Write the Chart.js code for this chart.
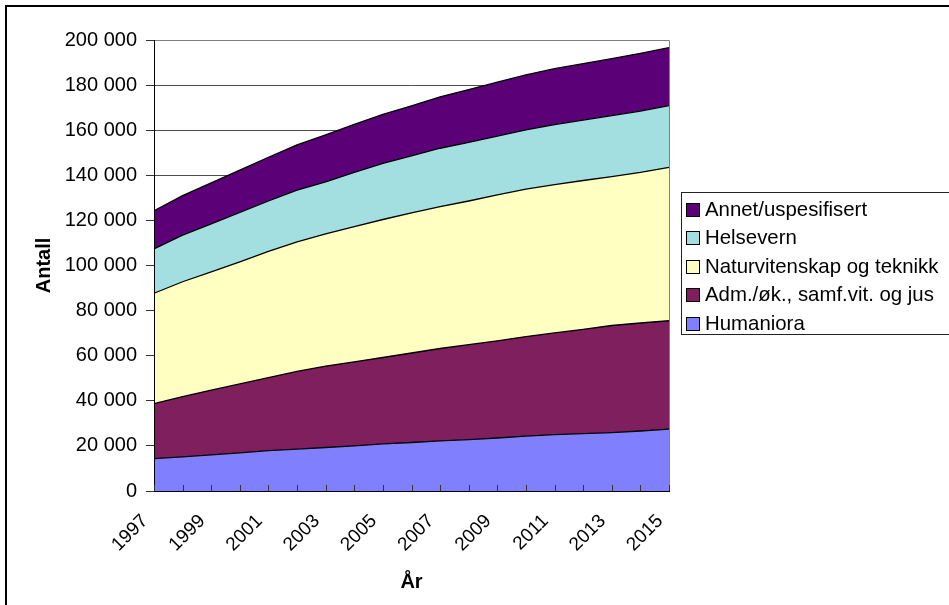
<!DOCTYPE html>
<html>
<head>
<meta charset="utf-8">
<script src="https://cdn.jsdelivr.net/npm/chart.js@4.4.1/dist/chart.umd.min.js"></script>
<style>
  html, body { margin: 0; padding: 0; background: #fff; overflow: hidden; }
  #wrap { position: relative; width: 949px; height: 605px; overflow: hidden; }
  #frame { position: absolute; left: 5px; top: 5px; width: 1000px; height: 700px; border: 2px solid #000; }
  #chart { position: absolute; left: 0; top: 0; }
  #legend {
    position: absolute; left: 681px; top: 192px; width: 300px; height: 141px;
    border: 1px solid #222; font-family: Arial, "Liberation Sans", sans-serif; font-size: 20.4px; color: #000;
  }
  #legend div { position: absolute; left: 4px; height: 24px; line-height: 24px; white-space: nowrap; }
  #legend span.box { display: inline-block; width: 12px; height: 12px; border: 1px solid #000; margin-right: 5px; vertical-align: -1px; }
</style>
</head>
<body>
<div id="wrap">
  <div id="frame"></div>
  <canvas id="chart" width="949" height="605"></canvas>
  <div id="legend"></div>
</div>
<script>
var years = ["1997", "1998", "1999", "2000", "2001", "2002", "2003", "2004", "2005", "2006",
             "2007", "2008", "2009", "2010", "2011", "2012", "2013", "2014", "2015"];

var humaniora = [14400, 15100, 16000, 16900, 17900, 18600, 19300, 20000, 20900, 21500,
                 22200, 22800, 23500, 24300, 25000, 25400, 25900, 26600, 27400];
var admOkJus  = [24300, 26800, 28700, 30600, 32400, 34400, 36100, 37300, 38300, 39700,
                 41000, 42100, 43100, 44200, 45100, 46300, 47500, 47900, 48100];
var naturTek  = [49000, 50900, 52500, 54100, 56000, 57500, 58600, 59900, 61200, 62100,
                 62900, 63700, 64700, 65400, 65800, 66000, 66000, 66800, 68000];
var helsevern = [19700, 20700, 21300, 21900, 22300, 22900, 23100, 24100, 24900, 25300,
                 25900, 26000, 26100, 26200, 26600, 26800, 27100, 27200, 27400];
var annet     = [16900, 17500, 18100, 18800, 19400, 20100, 20800, 21300, 21700, 22200,
                 22800, 23400, 23900, 24400, 24800, 25000, 25200, 25600, 25700];

var yMax = 200000;
var yStep = 20000;

var series = [
  { label: "Humaniora", data: humaniora, color: "#8080ff" },
  { label: "Adm./øk., samf.vit. og jus", data: admOkJus, color: "#7f1f5e" },
  { label: "Naturvitenskap og teknikk", data: naturTek, color: "#ffffc2" },
  { label: "Helsevern", data: helsevern, color: "#a3dfe0" },
  { label: "Annet/uspesifisert", data: annet, color: "#5c0078" }
];

function tall(v) {
  return String(v).replace(/\B(?=(\d{3})+(?!\d))/g, " ");
}

Chart.defaults.font.family = 'Arial, "Liberation Sans", sans-serif';
Chart.defaults.font.size = 20;
Chart.defaults.color = "#000";

// plot frame, axis lines and the short inner ticks on the x axis
var plotFrame = {
  id: "plotFrame",
  afterDatasetsDraw: function (chart) {
    var a = chart.chartArea, c = chart.ctx, xs = chart.scales.x;
    c.save();
    c.lineWidth = 1;
    c.strokeStyle = "#808080";
    c.beginPath();
    c.moveTo(a.left, a.top + 0.5);
    c.lineTo(a.right + 0.5, a.top + 0.5);
    c.lineTo(a.right + 0.5, a.bottom);
    c.stroke();
    c.strokeStyle = "#000";
    c.beginPath();
    c.moveTo(a.left + 0.5, a.top);
    c.lineTo(a.left + 0.5, a.bottom + 0.5);
    c.lineTo(a.right + 1, a.bottom + 0.5);
    c.stroke();
    c.strokeStyle = "#333";
    c.beginPath();
    for (var i = 0; i < years.length; i++) {
      var x = Math.round(xs.getPixelForTick(i)) + 0.5;
      c.moveTo(x, a.bottom);
      c.lineTo(x, a.bottom - 6);
    }
    c.stroke();
    c.restore();
  }
};

var ctx = document.getElementById("chart");
var myChart = new Chart(ctx, {
  type: "line",
  data: {
    labels: years,
    datasets: series.map(function (s, i) {
      return {
        label: s.label,
        data: s.data,
        backgroundColor: s.color,
        borderColor: "#000",
        borderWidth: 1.3,
        pointRadius: 0,
        tension: 0,
        fill: i === 0 ? "origin" : "-1"
      };
    })
  },
  options: {
    responsive: false,
    animation: false,
    layout: { padding: { left: 0, top: 40, right: 280, bottom: 0 } },
    plugins: {
      legend: { display: false },
      tooltip: { enabled: false }
    },
    scales: {
      x: {
        grid: { display: false, drawTicks: false },
        border: { display: false },
        ticks: {
          autoSkip: false,
          minRotation: 45,
          maxRotation: 45,
          padding: 19,
          labelOffset: -9,
          font: { size: 19 },
          callback: function (v, i) { return i % 2 === 0 ? years[i] : ""; }
        },
        title: { display: true, text: "År", font: { weight: "bold" }, padding: { bottom: 11 } },
        afterFit: function (s) { s.height = 114; }
      },
      y: {
        stacked: true,
        min: 0,
        max: yMax,
        grid: { color: "#4d4d4d", lineWidth: 1, tickLength: 8, tickColor: "#333" },
        border: { display: false },
        ticks: { stepSize: yStep, padding: 9, callback: function (v) { return tall(v); } },
        title: { display: true, text: "Antall", font: { weight: "bold" }, padding: { top: 32 } },
        afterFit: function (s) { s.width = 154; }
      }
    }
  },
  plugins: [plotFrame]
});

// legend, top series first
var legend = document.getElementById("legend");
series.slice().reverse().forEach(function (s, i) {
  var row = document.createElement("div");
  row.style.top = (4 + i * 28.4) + "px";
  row.innerHTML = '<span class="box" style="background:' + s.color + '"></span>' + s.label;
  legend.appendChild(row);
});
</script>
</body>
</html>
